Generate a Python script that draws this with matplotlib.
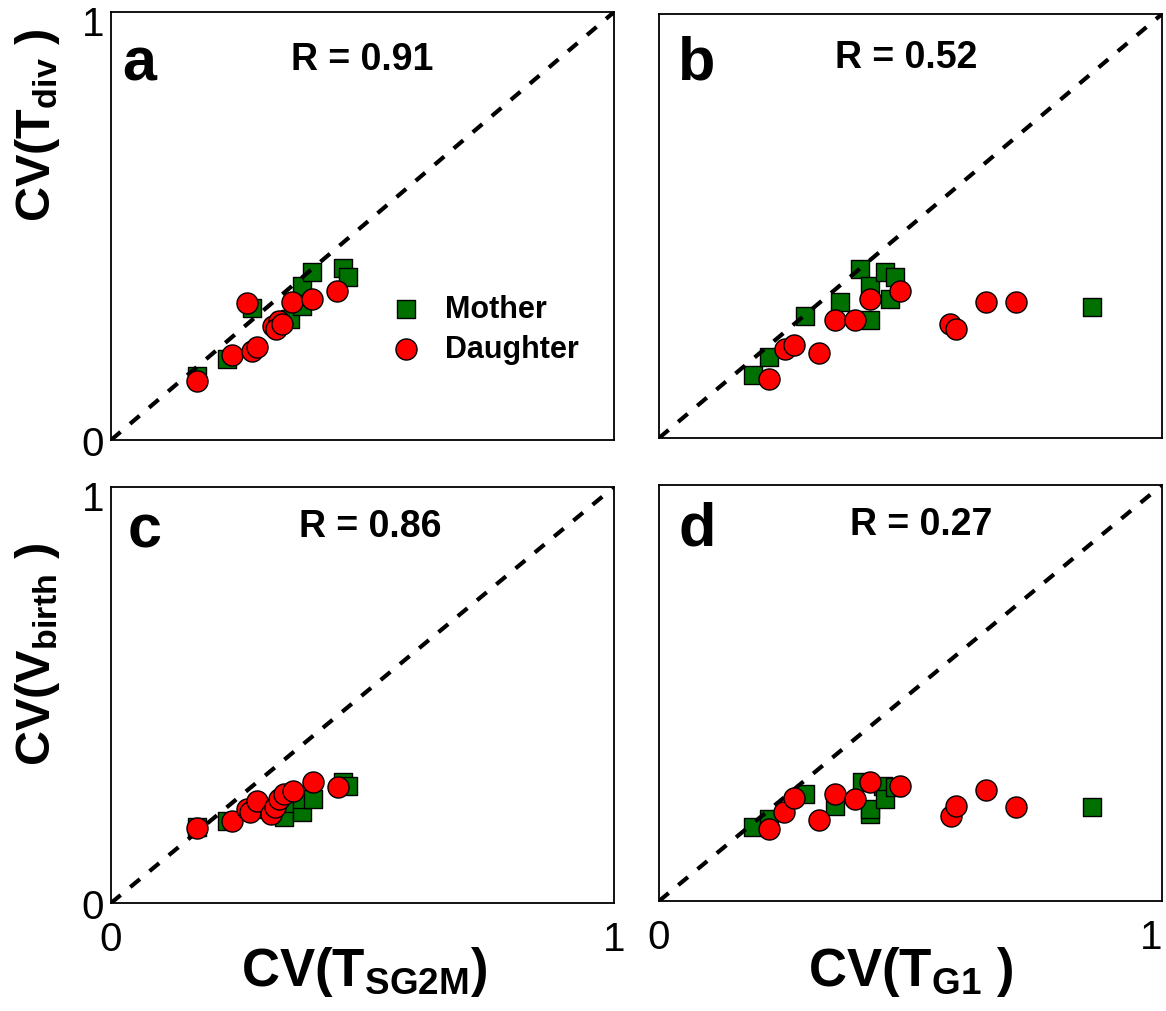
import numpy as np
import matplotlib
matplotlib.use('Agg')
from matplotlib import pyplot as plt
from matplotlib import transforms

plt.rcParams['font.family'] = ['Liberation Sans', 'DejaVu Sans']
plt.rcParams['mathtext.fontset'] = 'custom'
plt.rcParams['mathtext.rm'] = 'Liberation Sans:bold'
plt.rcParams['mathtext.it'] = 'Liberation Sans:bold'
plt.rcParams['mathtext.bf'] = 'Liberation Sans:bold'

# panel a : CV(Tdiv) vs CV(TSG2M)
a_mom_x = [0.170, 0.230, 0.280, 0.340, 0.356, 0.379, 0.379, 0.400, 0.462, 0.472]
a_mom_y = [0.150, 0.189, 0.308, 0.278, 0.283, 0.314, 0.361, 0.392, 0.401, 0.380]
a_dau_x = [0.170, 0.240, 0.280, 0.290, 0.270, 0.323, 0.333, 0.329, 0.339, 0.359, 0.400, 0.450]
a_dau_y = [0.139, 0.199, 0.209, 0.217, 0.320, 0.267, 0.279, 0.259, 0.271, 0.322, 0.329, 0.349]

# panel b : CV(Tdiv) vs CV(TG1)
b_mom_x = [0.187, 0.219, 0.290, 0.360, 0.400, 0.419, 0.419, 0.449, 0.459, 0.469, 0.860]
b_mom_y = [0.149, 0.190, 0.288, 0.320, 0.399, 0.359, 0.279, 0.391, 0.328, 0.379, 0.308]
b_dau_x = [0.219, 0.250, 0.268, 0.319, 0.349, 0.390, 0.419, 0.479, 0.579, 0.590, 0.650, 0.710]
b_dau_y = [0.139, 0.210, 0.219, 0.200, 0.278, 0.278, 0.328, 0.347, 0.269, 0.257, 0.320, 0.320]

# panel c : CV(Vbirth) vs CV(TSG2M)
c_mom_x = [0.170, 0.230, 0.280, 0.343, 0.356, 0.379, 0.379, 0.402, 0.462, 0.472]
c_mom_y = [0.183, 0.198, 0.225, 0.206, 0.240, 0.218, 0.250, 0.250, 0.290, 0.282]
c_dau_x = [0.170, 0.240, 0.270, 0.276, 0.290, 0.319, 0.326, 0.333, 0.343, 0.362, 0.402, 0.452]
c_dau_y = [0.180, 0.198, 0.226, 0.218, 0.246, 0.214, 0.230, 0.250, 0.262, 0.270, 0.290, 0.278]

# panel d : CV(Vbirth) vs CV(TG1)
d_mom_x = [0.187, 0.219, 0.290, 0.350, 0.403, 0.419, 0.419, 0.446, 0.449, 0.469, 0.860]
d_mom_y = [0.177, 0.197, 0.257, 0.229, 0.285, 0.209, 0.220, 0.277, 0.245, 0.273, 0.225]
d_dau_x = [0.219, 0.249, 0.268, 0.319, 0.349, 0.390, 0.419, 0.479, 0.580, 0.590, 0.650, 0.710]
d_dau_y = [0.173, 0.213, 0.247, 0.195, 0.257, 0.245, 0.287, 0.276, 0.205, 0.228, 0.267, 0.225]

letters = ['a', 'b', 'c', 'd']
rvals = ['R = 0.91', 'R = 0.52', 'R = 0.86', 'R = 0.27']

GREEN = '#007000'
RED = '#ff0000'

fig = plt.figure(figsize=(11.66, 10.12), dpi=100)
rects = [[0.0952, 0.5642, 0.4314, 0.4229],
         [0.5652, 0.5662, 0.4314, 0.4190],
         [0.0952, 0.1067, 0.4314, 0.4111],
         [0.5652, 0.1087, 0.4314, 0.4111]]
data = [(a_mom_x, a_mom_y, a_dau_x, a_dau_y),
        (b_mom_x, b_mom_y, b_dau_x, b_dau_y),
        (c_mom_x, c_mom_y, c_dau_x, c_dau_y),
        (d_mom_x, d_mom_y, d_dau_x, d_dau_y)]
letpos = [(0.022, 0.843), (0.038, 0.847), (0.034, 0.856), (0.038, 0.858)]
rpos = [(0.499, 0.867), (0.491, 0.875), (0.515, 0.882), (0.521, 0.882)]

for i in range(4):
    ax = fig.add_axes(rects[i])
    mx, my, dx, dy = data[i]
    ax.scatter(mx, my, marker='s', s=170, c=GREEN, edgecolors='black',
               linewidths=1.0, zorder=2, label='Mother')
    ax.plot([0, 1], [0, 1], color='black', lw=3, ls=(0, (3, 3)), zorder=3)
    ax.scatter(dx, dy, marker='o', s=230, c=RED, edgecolors='black',
               linewidths=1.0, zorder=4, label='Daughter')
    ax.set_xlim(0, 1)
    ax.set_ylim(0, 1)
    ax.tick_params(length=0, labelsize=29)
    ax.tick_params(axis='x', pad=12)
    ax.tick_params(axis='y', pad=5)
    ax.set_xticks([0, 1])
    ax.set_yticks([0, 1])
    if i < 2:
        ax.set_xticklabels([])
    if i % 2 == 1:
        ax.set_yticklabels([])
    else:
        top = ax.get_yticklabels()[1]
        top.set_transform(top.get_transform() +
                          transforms.ScaledTranslation(0, -6 / 72, fig.dpi_scale_trans))
    if i == 3:
        ax.get_xticklabels()[1].set_horizontalalignment('right')
    for sp in ax.spines.values():
        sp.set_linewidth(1.3)
    ax.text(letpos[i][0], letpos[i][1], letters[i], transform=ax.transAxes,
            fontsize=44, fontweight='bold', ha='left', va='baseline')
    ax.text(rpos[i][0], rpos[i][1], rvals[i], transform=ax.transAxes,
            fontsize=27, fontweight='bold', ha='center', va='baseline')
    if i == 0:
        ax.legend(loc='center left', bbox_to_anchor=(0.531, 0.26), frameon=False,
                  prop={'size': 22, 'weight': 'bold'}, handletextpad=0.8,
                  labelspacing=0.34, borderaxespad=0, handlelength=1.0)

fig.text(38 / 1166, 1 - 125 / 1012, r'CV(T$_{\mathrm{div}}$ )', rotation=90,
         fontsize=35, fontweight='bold', ha='center', va='center')
fig.text(38 / 1166, 1 - 655 / 1012, r'CV(V$_{\mathrm{birth}}$ )', rotation=90,
         fontsize=35, fontweight='bold', ha='center', va='center')
fig.text(364 / 1166, 1 - 972 / 1012, r'CV(T$_{\mathrm{SG2M}}$)',
         fontsize=38, fontweight='bold', ha='center', va='center')
fig.text(911 / 1166, 1 - 972 / 1012, r'CV(T$_{\mathrm{G1}}$ )',
         fontsize=38, fontweight='bold', ha='center', va='center')

fig.savefig('out.png', dpi=100)
